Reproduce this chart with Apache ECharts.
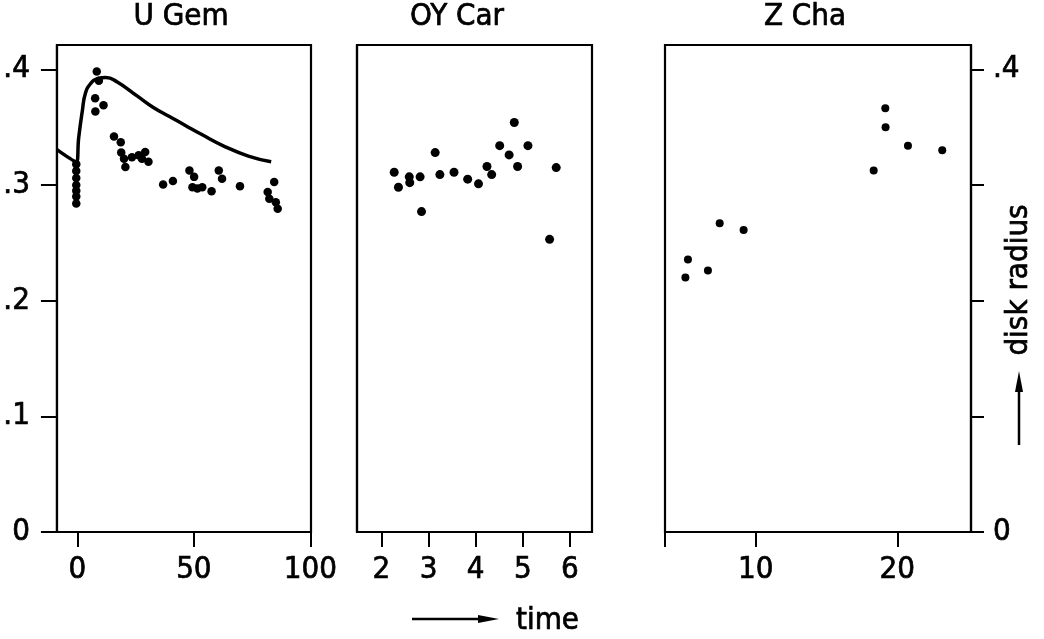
<!DOCTYPE html>
<html><head><meta charset="utf-8">
<script src="https://cdn.jsdelivr.net/npm/echarts@6/dist/echarts.min.js"></script>
<style>html,body{margin:0;padding:0;background:#fff}#c{width:1044px;height:639px}</style>
</head><body><div id="c"></div>
<script>
const FONT = '"DejaVu Sans Condensed","DejaVu Sans",sans-serif';

const panelTitles = ['U Gem', 'OY Car', 'Z Cha'];
const yTickValues = [0, 0.1, 0.2, 0.3, 0.4];
const yTickLabels = ['0', '.1', '.2', '.3', '.4'];
const yRightLabelValues = [0, 0.4];
const uGemTicks = [0, 50, 100];
const oyCarTicks = [2, 3, 4, 5, 6];
const zChaTicks = [10, 20];

// U Gem observations
const uGemTime = [-0.5, -0.5, -0.5, -0.5, -0.5, -0.5, -0.5,
  8.3, 9.2, 7.6, 11.2, 7.7,
  15.7, 18.6, 18.8, 20.0, 20.6, 23.4, 26.3, 29.1, 30.5, 27.7,
  36.8, 41.0,
  48.1, 50.1, 49.4, 51.5, 53.6, 57.6, 60.7, 62.1, 69.8,
  84.5, 81.7, 82.4, 86.0, 85.2];
const uGemRadius = [0.318, 0.312, 0.306, 0.300, 0.295, 0.290, 0.284,
  0.398, 0.390, 0.375, 0.369, 0.3635,
  0.342, 0.337, 0.328, 0.3227, 0.3155, 0.324, 0.3256, 0.3284, 0.320, 0.3227,
  0.3005, 0.3034,
  0.3126, 0.307, 0.298, 0.297, 0.298, 0.2945, 0.3126, 0.3054, 0.299,
  0.3025, 0.2939, 0.288, 0.2795, 0.285];
// U Gem model curve
const uGemModelTime = [-8.8, -0.5, 0.55, 2.1, 3.4, 5.6, 8.7, 12.2, 17.1, 25.6, 32.6, 39.7, 46.7, 53.0, 63.5, 73.4, 83.2];
const uGemModelRadius = [0.3305, 0.320, 0.341, 0.364, 0.379, 0.3875, 0.392, 0.393, 0.389, 0.377, 0.367, 0.359, 0.351, 0.344, 0.333, 0.325, 0.320];

// OY Car observations
const oyCarTime = [2.27, 2.36, 2.59, 2.60, 2.82, 2.85, 3.14, 3.24, 3.54, 3.83, 4.06, 4.24, 4.34, 4.51, 4.71, 4.82, 4.89, 5.11, 5.57, 5.71];
const oyCarRadius = [0.311, 0.298, 0.307, 0.302, 0.307, 0.277, 0.328, 0.309, 0.311, 0.305, 0.301, 0.316, 0.309, 0.334, 0.326, 0.354, 0.316, 0.334, 0.253, 0.315];

// Z Cha observations
const zChaTime = [5.04, 5.22, 6.63, 7.46, 9.15, 18.33, 19.15, 19.17, 20.75, 23.17];
const zChaRadius = [0.220, 0.2355, 0.226, 0.267, 0.261, 0.3126, 0.3664, 0.350, 0.334, 0.330];

const zip = (a, b) => a.map((v, i) => [v, b[i]]);
const yFmt = v => {
  let best = 0;
  yTickValues.forEach((t, i) => { if (Math.abs(t - v) < Math.abs(yTickValues[best] - v)) best = i; });
  return yTickLabels[best];
};

const BLACK = '#000';
const txt = { color: BLACK, fontFamily: FONT, fontSize: 31, textBorderColor: BLACK, textBorderWidth: 0.7 };
const grids = [
  { left: 52, top: 45, width: 259, height: 487 },
  { left: 357, top: 45, width: 235, height: 487 },
  { left: 665, top: 45, width: 306, height: 487 }
].map(g => Object.assign(g, { show: true, borderColor: BLACK, borderWidth: 2.2, containLabel: false }));

function xAxis(i, min, max, ticks, labels) {
  return {
    type: 'value', gridIndex: i, min: min, max: max,
    axisLine: { show: true, onZero: false, lineStyle: { color: BLACK, width: 2.2 } },
    axisTick: { show: true, inside: false, length: 15, customValues: ticks, lineStyle: { color: BLACK, width: 2 } },
    axisLabel: Object.assign({ customValues: labels, margin: 22, showMinLabel: true, showMaxLabel: true }, txt),
    splitLine: { show: false }
  };
}
function yAxis(i, pos, ticks, labels) {
  return {
    type: 'value', gridIndex: i, min: 0, max: 0.421, position: pos,
    axisLine: { show: true, onZero: false, lineStyle: { color: BLACK, width: 2.2 } },
    axisTick: { show: !!ticks, inside: false, length: pos === 'right' ? 13 : 16, customValues: ticks || [], lineStyle: { color: BLACK, width: 2 } },
    axisLabel: Object.assign({ show: !!labels, customValues: labels || [], formatter: yFmt, margin: pos === 'right' ? 22 : 27 }, txt),
    splitLine: { show: false }
  };
}

const titleX = [181, 457, 805];
const textStyle = { fill: BLACK, stroke: BLACK, lineWidth: 0.7, font: '31px ' + FONT };
const graphics = panelTitles.map((t, i) => ({
  type: 'text', x: titleX[i], y: 17,
  style: Object.assign({ text: t, textAlign: 'center', textVerticalAlign: 'middle' }, textStyle)
}));
graphics.push(
  { type: 'text', x: 1019, y: 280, rotation: Math.PI / 2,
    style: Object.assign({ text: 'disk radius', textAlign: 'center', textVerticalAlign: 'middle' }, textStyle) },
  { type: 'line', shape: { x1: 1019, y1: 445, x2: 1019, y2: 390 }, style: { stroke: BLACK, lineWidth: 2.5 } },
  { type: 'polygon', shape: { points: [[1019, 371], [1015, 392], [1023, 392]] }, style: { fill: BLACK } },
  { type: 'line', shape: { x1: 412, y1: 619, x2: 482, y2: 619 }, style: { stroke: BLACK, lineWidth: 2.5 } },
  { type: 'polygon', shape: { points: [[499, 619], [478, 615], [478, 623]] }, style: { fill: BLACK } },
  { type: 'text', x: 516, y: 621,
    style: Object.assign({ text: 'time', textAlign: 'left', textVerticalAlign: 'middle' }, textStyle) }
);

const chart = echarts.init(document.getElementById('c'), null, { renderer: 'canvas' });
chart.setOption({
  backgroundColor: '#fff',
  animation: false,
  grid: grids,
  xAxis: [
    xAxis(0, -8.8, 100.3, uGemTicks, uGemTicks),
    xAxis(1, 1.48, 6.47, oyCarTicks, oyCarTicks),
    xAxis(2, 3.6, 25.2, [3.6].concat(zChaTicks), zChaTicks)
  ],
  yAxis: [
    yAxis(0, 'left', yTickValues, yTickValues),
    yAxis(1, 'left', null, null),
    yAxis(2, 'right', yTickValues, yRightLabelValues)
  ],
  series: [
    { type: 'line', xAxisIndex: 0, yAxisIndex: 0, data: zip(uGemModelTime, uGemModelRadius),
      smooth: 0.5, showSymbol: false, lineStyle: { color: BLACK, width: 3.5 } },
    { type: 'scatter', xAxisIndex: 0, yAxisIndex: 0, data: zip(uGemTime, uGemRadius),
      symbolSize: 8.5, itemStyle: { color: BLACK, opacity: 1 } },
    { type: 'scatter', xAxisIndex: 1, yAxisIndex: 1, data: zip(oyCarTime, oyCarRadius),
      symbolSize: 9, itemStyle: { color: BLACK, opacity: 1 } },
    { type: 'scatter', xAxisIndex: 2, yAxisIndex: 2, data: zip(zChaTime, zChaRadius),
      symbolSize: 8, itemStyle: { color: BLACK, opacity: 1 } }
  ],
  graphic: graphics
});
</script>
</body></html>
